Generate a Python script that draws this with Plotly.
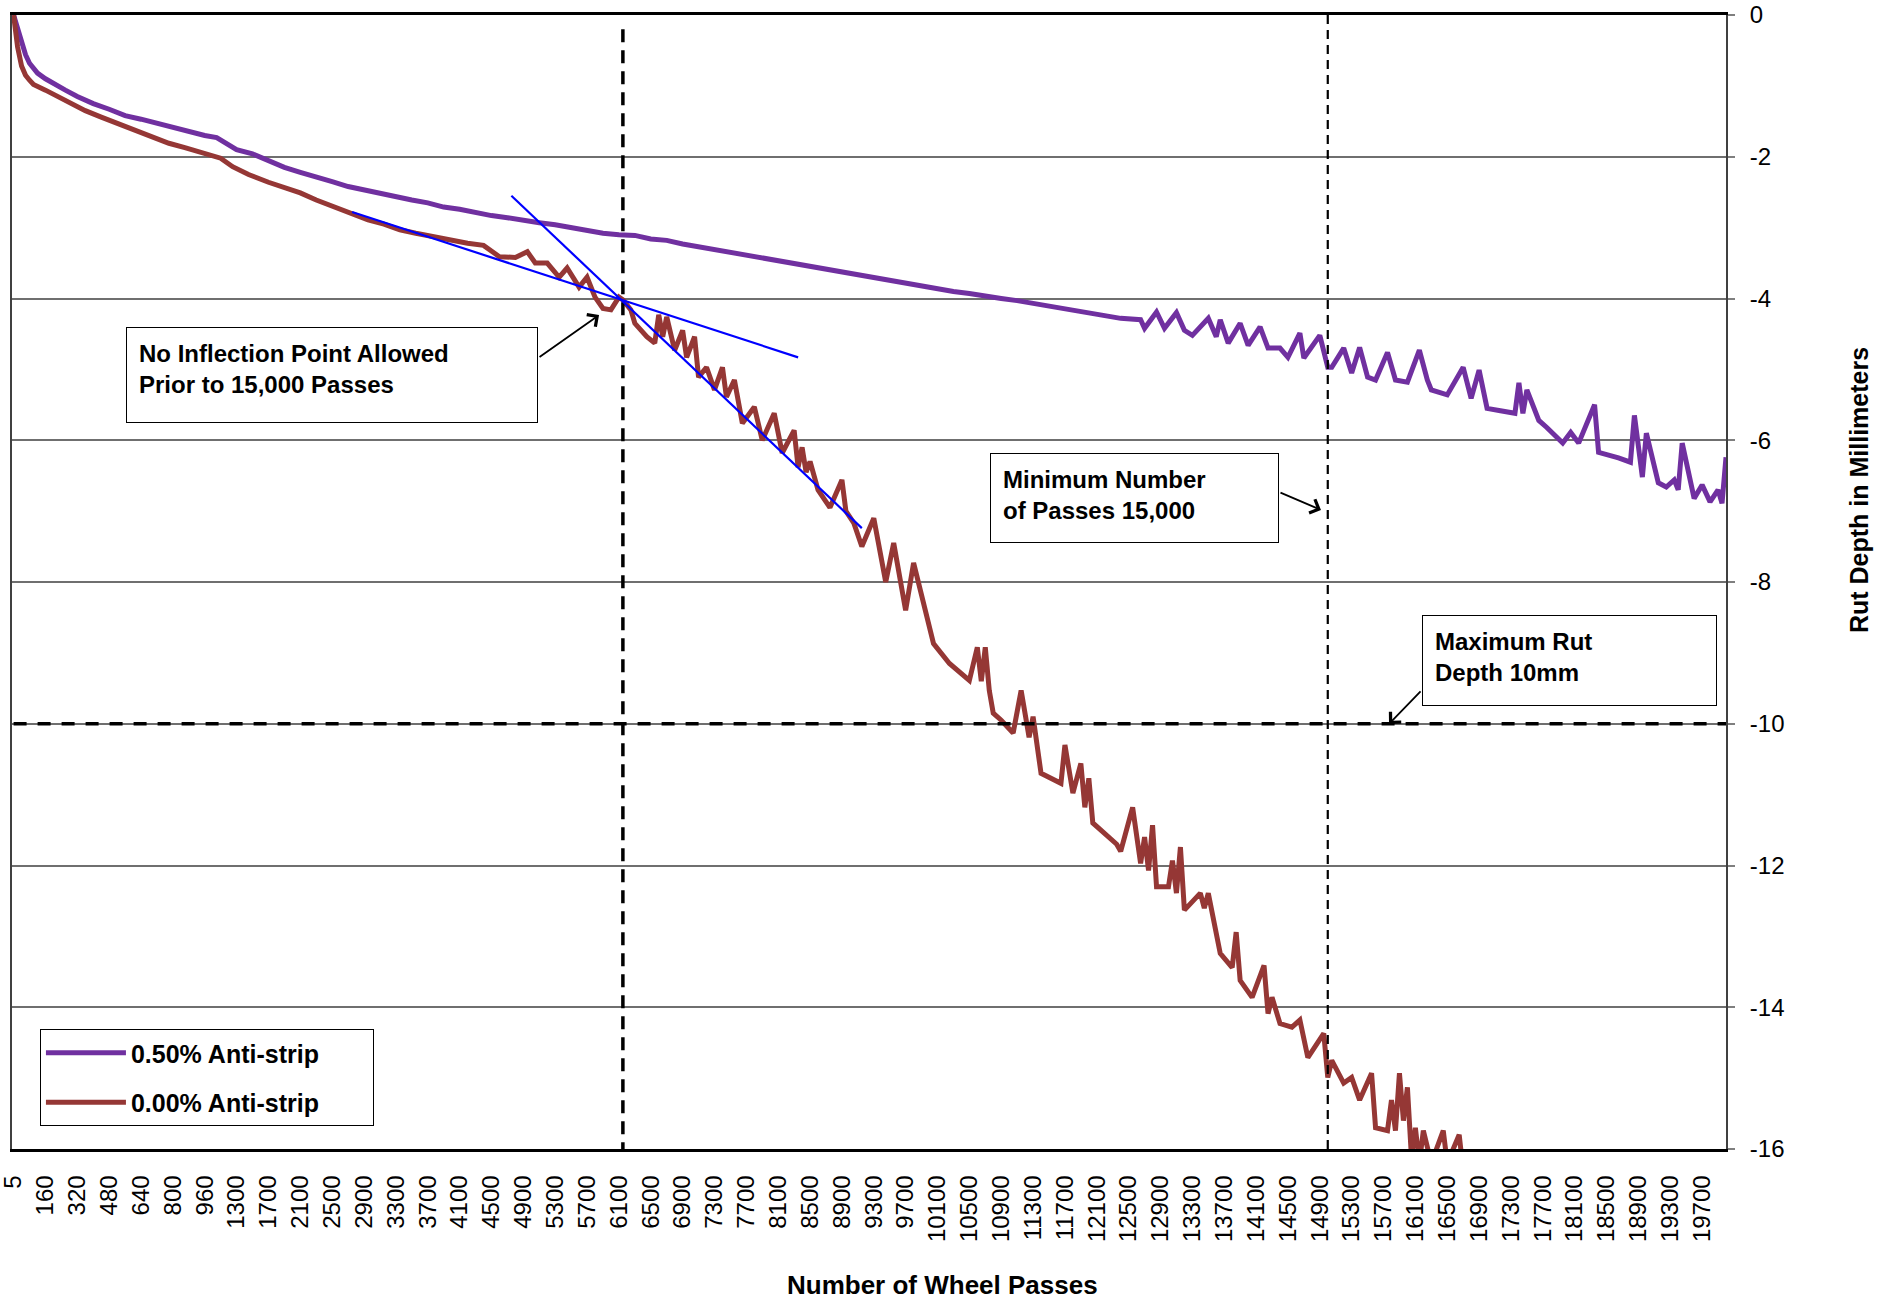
import plotly.graph_objects as go

# ---------------- categories (wheel passes) ----------------
categories = ["5"] + [str(p) for p in range(20, 1001, 20)] + [str(p) for p in range(1050, 20001, 50)]
tick_labels = categories[::8]

# ---------------- series: 0.50% Anti-strip ----------------
passes_050 = [5, 20, 40, 60, 80, 120, 160, 200, 260, 320, 400, 480, 560, 640, 720, 800, 880, 960,
              1050, 1150, 1300, 1500, 1700, 1900, 2100, 2300, 2500, 2700, 2900, 3100, 3300, 3500,
              3700, 3900, 4100, 4300, 4500, 4700, 4900, 5100, 5300, 5500, 5700, 5900, 6100, 6300,
              6500, 6700, 6900, 7100, 7300, 7500, 7700, 7900, 8100, 8300, 8500, 8700, 8900, 9100,
              9300, 9500, 9700, 9900, 10100, 10300, 10500, 10700, 10900, 11100, 11300, 11500,
              11700, 11900, 12150, 12400, 12650, 12700, 12850, 12950, 13100, 13200, 13300, 13500,
              13600, 13650, 13750, 13900, 14000, 14150, 14250, 14400, 14500, 14650, 14700, 14900,
              15000, 15050, 15200, 15300, 15400, 15500, 15600, 15750, 15850, 16000, 16150, 16250,
              16300, 16500, 16700, 16800, 16900, 17000, 17150, 17350, 17400, 17450, 17500, 17650,
              17750, 17950, 18050, 18150, 18350, 18400, 18650, 18800, 18850, 18950, 19000, 19150,
              19250, 19350, 19400, 19450, 19600, 19700, 19800, 19900, 19950, 20000]
depth_050 = [0, -0.2, -0.42, -0.56, -0.68, -0.82, -0.9, -0.97, -1.06, -1.15, -1.25, -1.33, -1.42, -1.47,
             -1.53, -1.58, -1.64, -1.7, -1.73, -1.8, -1.9, -1.96, -2.05, -2.15, -2.22, -2.28, -2.35,
             -2.42, -2.47, -2.52, -2.56, -2.61, -2.65, -2.71, -2.74, -2.79, -2.83, -2.86, -2.9, -2.93,
             -2.96, -3.0, -3.04, -3.08, -3.1, -3.11, -3.16, -3.18, -3.23, -3.27, -3.3, -3.35, -3.39,
             -3.43, -3.46, -3.5, -3.55, -3.59, -3.63, -3.67, -3.7, -3.74, -3.78, -3.82, -3.86, -3.9,
             -3.93, -3.97, -4.0, -4.03, -4.07, -4.1, -4.14, -4.18, -4.23, -4.28, -4.3, -4.42, -4.19,
             -4.42, -4.2, -4.45, -4.52, -4.28, -4.54, -4.3, -4.63, -4.35, -4.66, -4.4, -4.7, -4.7,
             -4.83, -4.49, -4.84, -4.52, -4.97, -4.97, -4.7, -5.05, -4.69, -5.11, -5.15, -4.76, -5.15,
             -5.18, -4.73, -5.15, -5.29, -5.36, -4.97, -5.41, -5.01, -5.55, -5.58, -5.62, -5.19, -5.62,
             -5.29, -5.72, -5.82, -6.04, -5.89, -6.04, -5.5, -6.17, -6.25, -6.31, -5.65, -6.52, -5.9,
             -6.6, -6.66, -6.56, -6.7, -6.04, -6.82, -6.63, -6.87, -6.7, -6.89, -6.24]

# ---------------- series: 0.00% Anti-strip ----------------
passes_000 = [5, 20, 40, 60, 80, 100, 160, 220, 280, 360, 440, 520, 600, 680, 780, 860, 940, 1100,
              1250, 1450, 1700, 1900, 2100, 2300, 2500, 2700, 2950, 3150, 3350, 3550, 3800, 4000,
              4200, 4400, 4600, 4800, 4950, 5050, 5200, 5350, 5450, 5600, 5700, 5800, 5900, 6000,
              6100, 6150, 6250, 6300, 6450, 6550, 6600, 6650, 6700, 6800, 6900, 6950, 7050, 7100,
              7200, 7300, 7400, 7450, 7550, 7650, 7800, 7900, 8050, 8150, 8300, 8350, 8400, 8450,
              8500, 8600, 8750, 8900, 8950, 9050, 9150, 9300, 9450, 9550, 9700, 9800, 10000, 10050,
              10250, 10500, 10600, 10650, 10700, 10750, 10800, 10900, 11050, 11150, 11250, 11300,
              11400, 11650, 11700, 11800, 11900, 11950, 12000, 12050, 12350, 12400, 12550, 12650,
              12700, 12750, 12800, 12850, 13000, 13050, 13100, 13150, 13200, 13400, 13450, 13500,
              13650, 13800, 13850, 13900, 14050, 14200, 14250, 14300, 14400, 14550, 14650, 14750,
              14950, 15000, 15050, 15200, 15300, 15400, 15550, 15600, 15750, 15800, 15850, 15900,
              15950, 16000, 16050, 16100, 16150, 16200, 16300, 16450, 16500, 16650, 16700, 16900]
depth_000 = [0, -0.45, -0.72, -0.85, -0.92, -0.98, -1.06, -1.15, -1.24, -1.35, -1.44, -1.53, -1.62,
             -1.7, -1.81, -1.87, -1.93, -2.02, -2.14, -2.25, -2.36, -2.44, -2.51, -2.61, -2.7, -2.79,
             -2.89, -2.95, -3.03, -3.08, -3.14, -3.18, -3.22, -3.25, -3.41, -3.42, -3.34, -3.5, -3.5,
             -3.7, -3.57, -3.84, -3.7, -3.98, -4.14, -4.16, -3.98, -4.02, -4.16, -4.35, -4.54, -4.63,
             -4.23, -4.54, -4.26, -4.73, -4.45, -4.83, -4.54, -5.11, -4.97, -5.29, -4.97, -5.39,
             -5.15, -5.76, -5.53, -6.0, -5.62, -6.18, -5.86, -6.38, -6.1, -6.45, -6.3, -6.7, -6.95,
             -6.56, -7.0, -7.17, -7.5, -7.1, -8.0, -7.45, -8.4, -7.73, -8.68, -8.87, -9.15, -9.39,
             -8.92, -9.4, -8.92, -9.53, -9.85, -9.95, -10.13, -9.53, -10.19, -9.9, -10.7, -10.84,
             -10.3, -10.98, -10.56, -11.18, -10.77, -11.4, -11.7, -11.8, -11.18, -11.97, -11.6,
             -12.07, -11.43, -12.3, -12.3, -11.93, -12.39, -11.74, -12.63, -12.39, -12.6, -12.39,
             -13.24, -13.44, -12.94, -13.62, -13.86, -13.41, -14.09, -13.86, -14.23, -14.28, -14.18,
             -14.71, -14.37, -14.99, -14.75, -15.07, -14.99, -15.31, -14.93, -15.7, -15.74, -15.31,
             -15.74, -14.93, -15.6, -15.13, -16.1, -15.7, -16.2, -15.74, -16.2, -15.74, -16.2, -15.8,
             -16.3, -16.5]

# ---------------- reference / tangent lines ----------------
tangent1_passes = [2750, 8350]
tangent1_depth = [-2.78, -4.83]
tangent2_passes = [4750, 9150]
tangent2_depth = [-2.55, -7.24]
inflection_pass = 6150
min_passes = 15000
max_rut_depth = -10
y_ticks = [0, -2, -4, -6, -8, -10, -12, -14, -16]

FONT = "Liberation Sans, Arial, sans-serif"
PURPLE = "#7030A0"
RED = "#953735"
PAD = "&nbsp;" * 7


def cat(ps):
    return [str(p) for p in ps]


fig = go.Figure()

# register every category so the axis spacing matches the original
fig.add_trace(go.Scatter(x=categories, y=[None] * len(categories), mode="lines",
                         showlegend=False, hoverinfo="skip"))

fig.add_trace(go.Scatter(x=cat(passes_050), y=depth_050, mode="lines",
                         name="<b>0.50% Anti-strip</b>" + PAD,
                         line=dict(color=PURPLE, width=5), legendgroup="a"))
fig.add_trace(go.Scatter(x=cat(passes_000), y=depth_000, mode="lines",
                         name="<b>0.00% Anti-strip</b>" + PAD,
                         line=dict(color=RED, width=5), legendgroup="b"))

# dashed reference lines
fig.add_trace(go.Scatter(x=cat([inflection_pass, inflection_pass]), y=[-0.2, -16], mode="lines",
                         line=dict(color="black", width=3.5, dash="13px,8px"), showlegend=False,
                         hoverinfo="skip"))
fig.add_trace(go.Scatter(x=cat([min_passes, min_passes]), y=[0, -16], mode="lines",
                         line=dict(color="black", width=2.2, dash="9px,6px"), showlegend=False,
                         hoverinfo="skip"))
fig.add_trace(go.Scatter(x=[categories[0], categories[-1]], y=[max_rut_depth, max_rut_depth], mode="lines",
                         line=dict(color="black", width=3.5, dash="13px,11px"), showlegend=False,
                         hoverinfo="skip"))

# tangent lines
fig.add_trace(go.Scatter(x=cat(tangent1_passes), y=tangent1_depth, mode="lines",
                         line=dict(color="#0000FF", width=2.2), showlegend=False, hoverinfo="skip"))
fig.add_trace(go.Scatter(x=cat(tangent2_passes), y=tangent2_depth, mode="lines",
                         line=dict(color="#0000FF", width=2.2), showlegend=False, hoverinfo="skip"))

W, H = 1883, 1304
ML, MR, MT, MB = 12, 157, 15, 155

annotations = []


def box(text, xp, yp, w, h):
    annotations.append(dict(
        text=text, xref="paper", yref="paper", x=xp, y=yp, xanchor="left", yanchor="top",
        showarrow=False, align="left", valign="top", width=w - 26, height=h - 26,
        borderpad=12, bordercolor="black", borderwidth=1, bgcolor="white",
        font=dict(family=FONT, size=24, color="black")))


def arrow(xp, yp, ax, ay):
    annotations.append(dict(
        text="", xref="paper", yref="paper", x=xp, y=yp, ax=ax, ay=ay,
        showarrow=True, arrowhead=4, arrowsize=1.6, arrowwidth=1.8, arrowcolor="black",
        standoff=0, startstandoff=0))


box("<b>No Inflection Point Allowed<br>Prior to 15,000 Passes</b>", 0.0665, 0.7249, 412, 96)
box("<b>Minimum Number<br>of Passes 15,000</b>", 0.5706, 0.6138, 289, 90)
box("<b>Maximum Rut<br>Depth 10mm</b>", 0.8226, 0.4709, 295, 91)
arrow(0.3425, 0.7354, -61, 43)
arrow(0.7637, 0.5635, -42, -18)
arrow(0.8034, 0.3748, 33, -34)

annotations.append(dict(text="<b>Number of Wheel Passes</b>", xref="paper", yref="paper",
                        x=0.5426, y=-0.1199, xanchor="center", yanchor="middle", showarrow=False,
                        font=dict(family=FONT, size=26, color="black")))
annotations.append(dict(text="<b>Rut Depth in Millimeters</b>", xref="paper", yref="paper",
                        x=1.0776, y=0.5811, xanchor="center", yanchor="middle", showarrow=False,
                        textangle=-90, font=dict(family=FONT, size=25, color="black")))

fig.update_layout(
    width=W, height=H,
    margin=dict(l=ML, r=MR, t=MT, b=MB, pad=0, autoexpand=False),
    paper_bgcolor="white", plot_bgcolor="white",
    font=dict(family=FONT, color="black"),
    annotations=annotations,
    hovermode=False,
    showlegend=True,
    legend=dict(x=0.0163, y=0.1058, xanchor="left", yanchor="top",
                bordercolor="black", borderwidth=1, bgcolor="white",
                font=dict(family=FONT, size=25, color="black"),
                tracegroupgap=14, itemwidth=80),
    xaxis=dict(type="category", categoryorder="array", categoryarray=categories,
               range=[-0.4, len(categories) - 1], tickmode="array",
               tickvals=tick_labels, ticktext=tick_labels, tickangle=-90,
               tickfont=dict(family=FONT, size=24, color="black"),
               ticks="", showgrid=False, zeroline=False, automargin=False,
               showline=True, linecolor="black", linewidth=2.5, mirror=True,
               ticklabelstandoff=14),
    yaxis=dict(range=[-16, 0], side="right", tickmode="array", tickvals=y_ticks,
               ticktext=[str(v) for v in y_ticks], automargin=False,
               tickfont=dict(family=FONT, size=24, color="black"),
               ticks="outside", ticklen=7, tickcolor="#7f7f7f", tickwidth=1.5,
               showgrid=True, gridcolor="#6f6f6f", gridwidth=1.5, zeroline=False,
               showline=True, linecolor="#404040", linewidth=2, mirror=True,
               ticklabelstandoff=10),
)

fig.write_html("out.html", post_script="document.body.style.margin='0';",
               config={"displayModeBar": False})
